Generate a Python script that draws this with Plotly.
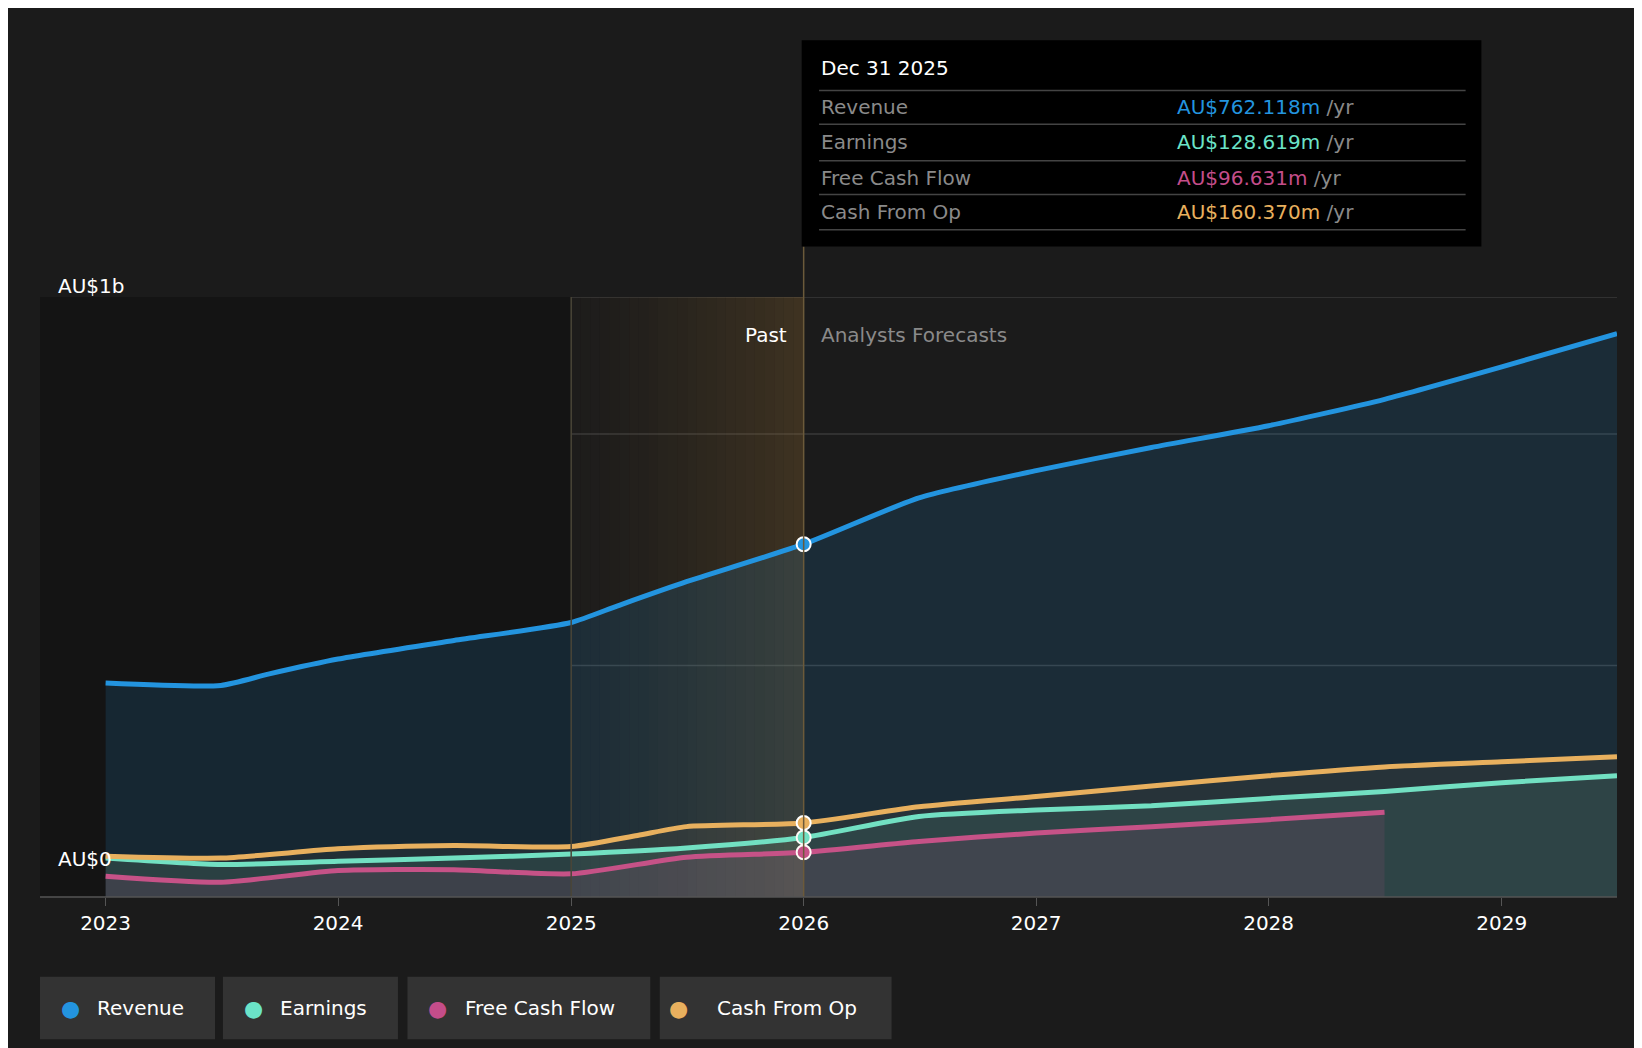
import plotly.graph_objects as go
import datetime as dt

# values in AU$ billions
rev_x = ["2023-01-01", "2023-07-01", "2023-09-15", "2024-01-01", "2024-07-01", "2025-01-01", "2025-03-15",
         "2025-07-01", "2026-01-01", "2026-07-01", "2027-01-01", "2027-07-01", "2028-01-01", "2028-07-01",
         "2029-01-01", "2029-07-01"]
rev_y = [0.462, 0.457, 0.482, 0.514, 0.554, 0.593, 0.629, 0.681, 0.762, 0.862, 0.921, 0.971, 1.018, 1.075,
         1.145, 1.217]

earn_x = ["2023-01-01", "2023-07-01", "2024-01-01", "2024-07-01", "2025-01-01", "2025-07-01", "2026-01-01",
          "2026-07-01", "2027-01-01", "2027-07-01", "2028-01-01", "2028-07-01", "2029-01-01", "2029-07-01"]
earn_y = [0.084, 0.070, 0.077, 0.084, 0.093, 0.106, 0.1286, 0.174, 0.188, 0.197, 0.213, 0.228, 0.247, 0.262]

fcf_x = ["2023-01-01", "2023-07-01", "2024-01-01", "2024-07-01", "2025-01-01", "2025-07-01", "2026-01-01",
         "2026-07-01", "2027-01-01", "2027-07-01", "2028-01-01", "2028-07-01"]
fcf_y = [0.045, 0.032, 0.057, 0.059, 0.050, 0.086, 0.0966, 0.120, 0.138, 0.152, 0.167, 0.183]

cfo_x = ["2023-01-01", "2023-07-01", "2024-01-01", "2024-07-01", "2025-01-01", "2025-04-15", "2025-07-01",
         "2026-01-01", "2026-07-01", "2027-01-01", "2027-07-01", "2028-01-01", "2028-07-01", "2029-01-01",
         "2029-07-01"]
cfo_y = [0.088, 0.084, 0.104, 0.111, 0.109, 0.133, 0.152, 0.160, 0.195, 0.217, 0.240, 0.262, 0.281, 0.292,
         0.303]

tick_vals = ["2023-01-01", "2024-01-01", "2025-01-01", "2026-01-01", "2027-01-01", "2028-01-01", "2029-01-01"]
tick_text = ["2023", "2024", "2025", "2026", "2027", "2028", "2029"]

names = ["Revenue", "Earnings", "Free Cash Flow", "Cash From Op"]
colors = ["#2394df", "#6be4c8", "#c44d8a", "#e8b05e"]
tip_values = ["AU$762.118m", "AU$128.619m", "AU$96.631m", "AU$160.370m"]
fills = ["rgba(35,148,223,0.15)", "rgba(107,228,200,0.10)", "rgba(196,77,138,0.12)", "rgba(232,176,94,0.06)"]

fig = go.Figure()
series = [(rev_x, rev_y), (earn_x, earn_y), (fcf_x, fcf_y), (cfo_x, cfo_y)]
for (xs, ys), name, c, f in zip(series, names, colors, fills):
    fig.add_trace(go.Scatter(x=xs, y=ys, mode="lines", line=dict(color=c, width=5, shape="spline", smoothing=0.6),
                             fill="tozeroy", fillcolor=f, name=name, showlegend=False, hoverinfo="skip"))
    i = xs.index("2026-01-01")
    fig.add_trace(go.Scatter(x=[xs[i]], y=[ys[i]], mode="markers",
                             marker=dict(color=c, size=14, line=dict(color="white", width=2)),
                             showlegend=False, hoverinfo="skip"))

shapes = []
# past dark region
shapes.append(dict(type="rect", xref="x", yref="y", x0="2022-09-20", x1="2025-01-01", y0=0, y1=1.296,
                   fillcolor="#141414", line_width=0, layer="below"))
# gradient band 2025 -> 2026
start = dt.date(2025, 1, 1)
steps = 24
for k in range(steps):
    a = start + dt.timedelta(days=365 * k / steps)
    b = start + dt.timedelta(days=365 * (k + 1) / steps)
    op = 0.02 + 0.28 * (k / steps) ** 1.3
    shapes.append(dict(type="rect", xref="x", yref="y", x0=str(a), x1=str(b), y0=0, y1=1.296,
                       fillcolor=f"rgba(150,110,50,{op:.3f})", line_width=0, layer="below"))
for gy in [0.5, 1.0, 1.296]:
    shapes.append(dict(type="line", xref="paper", yref="y", x0=0, x1=1, y0=gy, y1=gy,
                       line=dict(color="#3a3a3a", width=1.5), layer="between"))
shapes.append(dict(type="line", xref="x", yref="y", x0="2025-01-01", x1="2025-01-01", y0=0, y1=1.296,
                   line=dict(color="#4a4638", width=1.5)))
shapes.append(dict(type="line", xref="x", yref="paper", x0="2026-01-01", x1="2026-01-01", y0=0, y1=1.084,
                   line=dict(color="#6b5a3a", width=1.5)))
shapes.append(dict(type="line", xref="paper", yref="paper", x0=0, x1=1, y0=0, y1=0,
                   line=dict(color="#555", width=1.5)))

# tooltip box
shapes.append(dict(type="rect", xref="paper", yref="paper", x0=0.483, x1=0.914, y0=1.084, y1=1.428,
                   fillcolor="#000000", line_width=0))
for sy in [1.344, 1.288, 1.227, 1.171, 1.112]:
    shapes.append(dict(type="line", xref="paper", yref="paper", x0=0.494, x1=0.904, y0=sy, y1=sy,
                       line=dict(color="#444", width=1.5)))

ann = []
ann.append(dict(text="Dec 31 2025", x=0.494, y=1.382, xref="paper", yref="paper", showarrow=False,
                xanchor="left", yanchor="middle", font=dict(color="white", size=20)))
for ry, n, c, v in zip([1.316, 1.258, 1.199, 1.141], names, colors, tip_values):
    ann.append(dict(text=n, x=0.494, y=ry, xref="paper", yref="paper", showarrow=False, xanchor="left",
                    yanchor="middle", font=dict(color="#8a8a8a", size=20)))
    ann.append(dict(text=f"<span style='color:{c}'>{v}</span> /yr", x=0.720, y=ry, xref="paper", yref="paper",
                    showarrow=False, xanchor="left", yanchor="middle", font=dict(color="#8a8a8a", size=20)))
ann.append(dict(text="Past", x=0.475, y=0.96, xref="paper", yref="paper", showarrow=False, xanchor="right",
                font=dict(color="white", size=20)))
ann.append(dict(text="Analysts Forecasts", x=0.494, y=0.96, xref="paper", yref="paper", showarrow=False,
                xanchor="left", font=dict(color="#8a8a8a", size=20)))
ann.append(dict(text="AU$1b", x=0.010, y=1.042, xref="paper", yref="paper", showarrow=False, xanchor="left",
                font=dict(color="white", size=20)))
ann.append(dict(text="AU$0", x=0.010, y=0.04, xref="paper", yref="paper", showarrow=False, xanchor="left",
                font=dict(color="white", size=20)))

# custom legend
boxes = [(0, 0.111), (0.116, 0.227), (0.233, 0.387), (0.393, 0.540)]
for (x0, x1), n, c in zip(boxes, names, colors):
    shapes.append(dict(type="rect", xref="paper", yref="paper", x0=x0, x1=x1, y0=-0.237, y1=-0.133,
                       fillcolor="#333333", line_width=0))
    ann.append(dict(text="●", x=x0 + 0.012, y=-0.185, xref="paper", yref="paper", showarrow=False,
                    yanchor="middle", font=dict(color=c, size=22)))
    ann.append(dict(text=n, x=x0 + 0.035, y=-0.185, xref="paper", yref="paper", showarrow=False,
                    xanchor="left", yanchor="middle", font=dict(color="white", size=20)))

fig.update_layout(
    width=1642, height=1048, autosize=False,
    margin=dict(l=32, r=33, t=289, b=159),
    paper_bgcolor="#1b1b1b", plot_bgcolor="#1b1b1b",
    font=dict(family="DejaVu Sans", color="white", size=20),
    shapes=shapes, annotations=ann, showlegend=False,
    xaxis=dict(range=["2022-09-20", "2029-07-01"], tickvals=tick_vals, ticktext=tick_text,
               showgrid=False, zeroline=False, ticks="outside", ticklen=8, tickcolor="#555",
               tickfont=dict(color="white", size=20)),
    yaxis=dict(range=[0, 1.296], showgrid=False, zeroline=False, showticklabels=False),
)

fig.write_html("out.html")
